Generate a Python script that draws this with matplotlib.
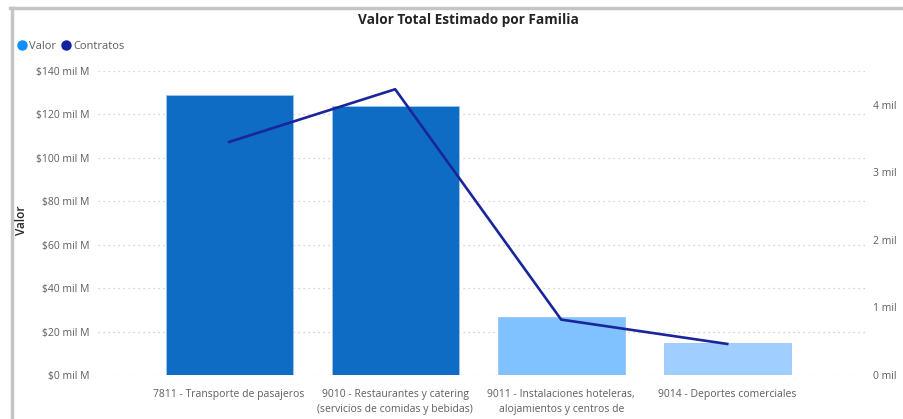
import matplotlib.pyplot as plt
from matplotlib.lines import Line2D

# data
categorias = ["7811 - Transporte de pasajeros",
              "9010 - Restaurantes y catering\n(servicios de comidas y bebidas)",
              "9011 - Instalaciones hoteleras,\nalojamientos y centros de\nesparcimiento",
              "9014 - Deportes comerciales"]
valor = [128.9, 123.9, 26.6, 14.7]          # mil M
contratos = [3450, 4230, 820, 460]
colores_barras = ["#0F6CC5", "#0F6CC5", "#80C2FF", "#A0CFFF"]
ticks_valor = [0, 20, 40, 60, 80, 100, 120, 140]
ticks_contratos = [0, 1000, 2000, 3000, 4000]

plt.rcParams['font.family'] = ['Open Sans', 'DejaVu Sans']

W, H = 904, 419
fig = plt.figure(figsize=(W / 100, H / 100), dpi=100)

# axes area in pixel coords
x0, x1, ytop, ybot = 98, 865, 71, 375
ax = fig.add_axes([x0 / W, 1 - ybot / H, (x1 - x0) / W, (ybot - ytop) / H])
ax2 = ax.twinx()

xs = list(range(len(categorias)))
ax.bar(xs, valor, width=0.765, color=colores_barras, edgecolor="#9DC6EE", linewidth=0.6, zorder=2)
ax2.plot(xs, contratos, color="#1A259C", linewidth=1.9, zorder=3)

ax.set_xlim(-0.79, 3.83)
ax.set_ylim(0, 140)
ax2.set_ylim(0, 4500)

ax.set_yticks(ticks_valor)
ax.set_yticklabels([f"${v} mil M" for v in ticks_valor])
ax2.set_yticks(ticks_contratos)
ax2.set_yticklabels([f"{v // 1000} mil" for v in ticks_contratos])
ax.set_xticks(xs)
ax.set_xticklabels(categorias, fontsize=7.0, color="#605E5C", linespacing=1.55)

ax.grid(axis='y', linestyle=(0, (1, 3)), color="#C8C8C8", linewidth=0.9, zorder=0)
ax.set_axisbelow(True)
for a in (ax, ax2):
    for s in a.spines.values():
        s.set_visible(False)
    a.tick_params(length=0, labelsize=7.5, labelcolor="#605E5C")
ax.tick_params(axis='y', pad=6)
ax.tick_params(axis='x', pad=10)
ax2.tick_params(axis='y', pad=6)

fig.text(22 / W, 1 - 220 / H, "Valor", rotation=90, fontsize=8.5, color="#252423",
         fontweight='semibold', ha='center', va='center')
fig.text(905 / W, 1 - 218 / H, "Contratos", rotation=90, fontsize=8.5, color="#252423",
         ha='left', va='center')

fig.text(468 / W, 1 - 20 / H, "Valor Total Estimado por Familia", fontsize=9.8,
         fontweight='bold', color="#252423", ha='center', va='center')

handles = [Line2D([], [], marker='o', linestyle='', color="#118DFF", markersize=6.5),
           Line2D([], [], marker='o', linestyle='', color="#12239E", markersize=6.5)]
fig.legend(handles, ["Valor", "Contratos"], loc='center left', bbox_to_anchor=(11 / W, 1 - 46 / H),
           ncol=2, frameon=False, fontsize=8, handletextpad=0.05, columnspacing=0.3,
           borderaxespad=0, labelcolor="#605E5C", handlelength=1.2)

# visual frame (top and left borders)
fig.add_artist(Line2D([10 / W, 1], [1 - 8 / H, 1 - 8 / H], color="#C4C4C4", linewidth=2.5))
fig.add_artist(Line2D([12 / W, 12 / W], [0, 1 - 8 / H], color="#C4C4C4", linewidth=2.5))

fig.savefig("out.png", dpi=100)
